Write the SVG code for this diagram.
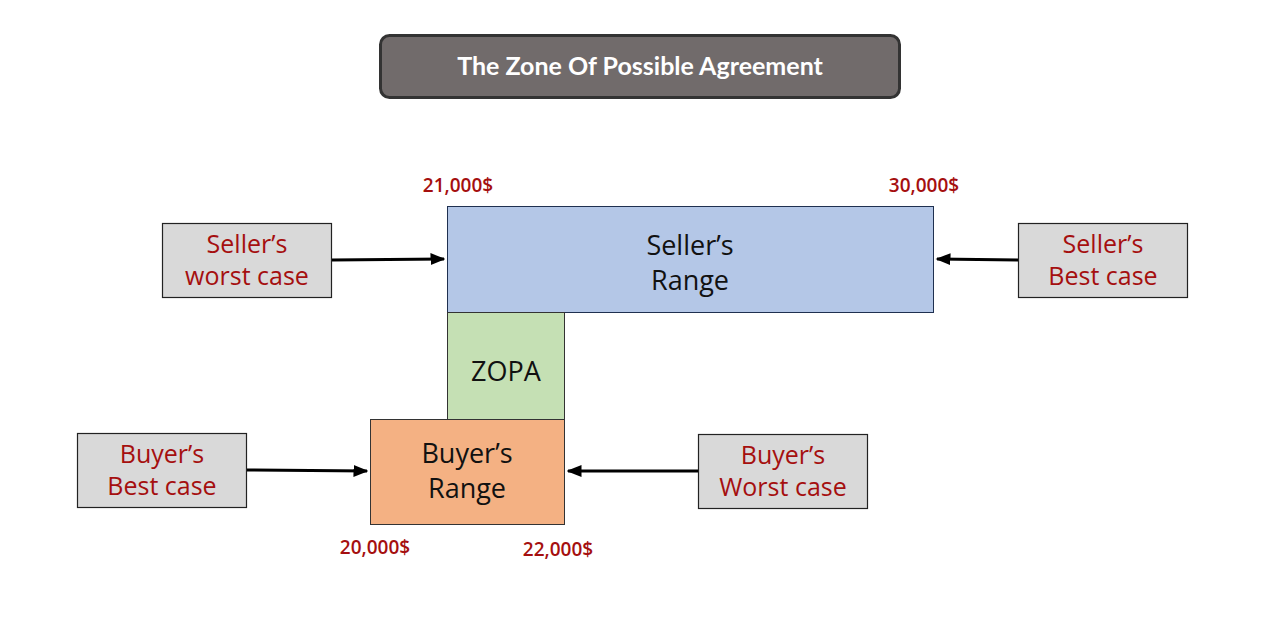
<svg xmlns="http://www.w3.org/2000/svg" width="1270" height="631" viewBox="0 0 1270 631">
<style>
.side{fill:#d9d9d9;stroke:#222;stroke-width:1.2}
.red{fill:#a50f0f;font-family:"Open Sans","Liberation Sans",sans-serif;font-size:25px;text-anchor:middle}
.val{fill:#a50f0f;font-family:"Open Sans","Liberation Sans",sans-serif;font-size:19px;font-weight:600;text-anchor:middle}
.blk{fill:#111;font-family:"Open Sans","Liberation Sans",sans-serif;font-size:27px;text-anchor:middle}
.con{stroke:#000;stroke-width:3;fill:none;marker-end:url(#ah)}
</style>
<defs><marker id="ah" markerWidth="5" markerHeight="4" refX="4.5" refY="2" orient="auto"><path d="M0,0L5,2L0,4z" fill="#000"/></marker></defs>
<rect width="1270" height="631" fill="#fff"/>
<g id="title"><rect x="380.5" y="35.5" width="519" height="62" rx="9" fill="#716b6b" stroke="#333" stroke-width="3"/><text x="640" y="75" fill="#fff" font-family="Lato,'Liberation Sans',sans-serif" font-weight="bold" font-size="25" text-anchor="middle">The Zone Of Possible Agreement</text></g>
<g id="sellerRange"><rect x="447.5" y="206.5" width="486" height="106" fill="#b4c7e7" stroke="#1f3050" stroke-width="1"/><text class="blk" x="690" y="255">Seller’s</text><text class="blk" x="690" y="290">Range</text></g>
<g id="zopa"><rect x="447.5" y="312.5" width="117" height="107" fill="#c5e0b4" stroke="#333" stroke-width="1"/><text class="blk" x="506" y="381">ZOPA</text></g>
<g id="buyerRange"><rect x="370.5" y="419.5" width="194" height="105" fill="#f4b183" stroke="#333" stroke-width="1"/><text class="blk" x="467" y="463">Buyer’s</text><text class="blk" x="467" y="498">Range</text></g>
<g id="sellerWorst"><rect class="side" x="162.5" y="223.5" width="169" height="74"/><text class="red" x="247" y="253">Seller’s</text><text class="red" x="247" y="285">worst case</text></g>
<g id="sellerBest"><rect class="side" x="1018.5" y="223.5" width="169" height="74"/><text class="red" x="1103" y="253">Seller’s</text><text class="red" x="1103" y="285">Best case</text></g>
<g id="buyerBest"><rect class="side" x="77.5" y="433.5" width="169" height="74"/><text class="red" x="162" y="463">Buyer’s</text><text class="red" x="162" y="495">Best case</text></g>
<g id="buyerWorst"><rect class="side" x="698.5" y="434.5" width="169" height="74"/><text class="red" x="783" y="464">Buyer’s</text><text class="red" x="783" y="496">Worst case</text></g>
<g id="labels"><text class="val" x="458" y="192">21,000$</text><text class="val" x="924" y="192">30,000$</text><text class="val" x="375" y="554">20,000$</text><text class="val" x="558" y="556">22,000$</text></g>
<g id="connectors">
<line class="con" x1="332" y1="260" x2="444" y2="259"/>
<line class="con" x1="1018" y1="260" x2="937" y2="259"/>
<line class="con" x1="247" y1="470" x2="367" y2="471"/>
<line class="con" x1="698" y1="471" x2="568" y2="471"/>
</g>
</svg>
